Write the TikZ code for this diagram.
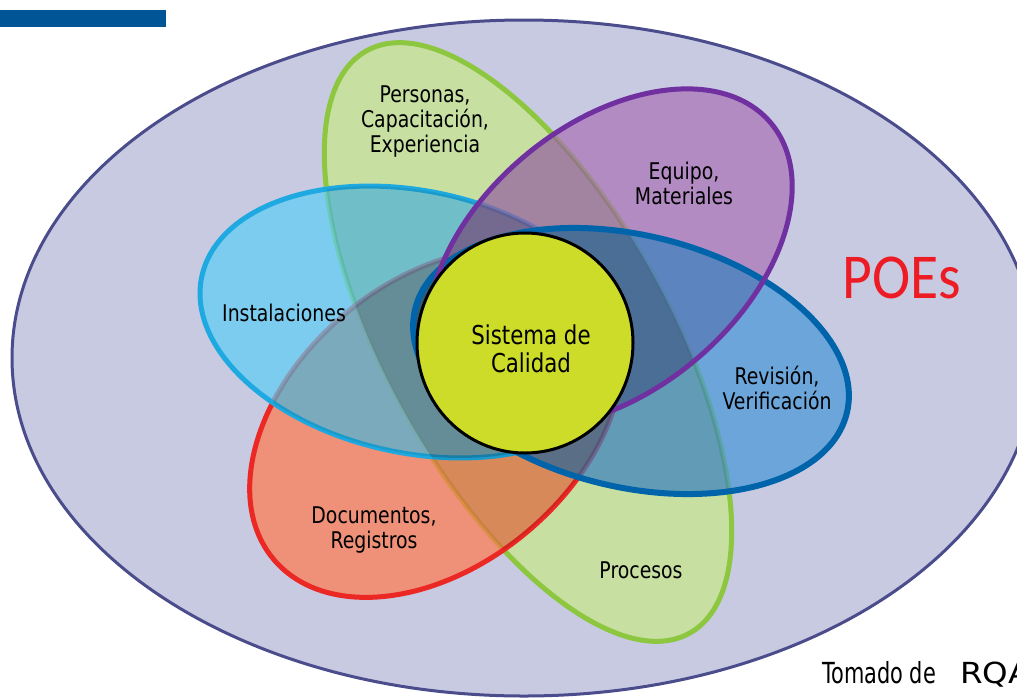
\documentclass[tikz,border=0pt]{standalone}
\usepackage{fontspec}
\newfontfamily\lblfont[FakeStretch=0.82]{DejaVu Sans}
\newfontfamily\srcfont[FakeStretch=0.72]{DejaVu Sans}
\newfontfamily\rqfont[FakeStretch=1.12]{DejaVu Sans}
\newfontfamily\poefont[FakeStretch=0.9]{Carlito}
\definecolor{barblue}{RGB}{0,85,150}
\definecolor{outerfill}{RGB}{200,202,226}
\definecolor{outerline}{RGB}{74,76,140}
\definecolor{greenfill}{RGB}{201,233,136}
\definecolor{greenline}{RGB}{141,198,63}
\definecolor{redfill}{RGB}{255,121,75}
\definecolor{redline}{RGB}{235,40,35}
\definecolor{cyanfill}{RGB}{93,206,246}
\definecolor{cyanline}{RGB}{30,170,225}
\definecolor{bluefill}{RGB}{70,150,215}
\definecolor{blueline}{RGB}{0,100,170}
\definecolor{purplefill}{RGB}{171,113,182}
\definecolor{purpleline}{RGB}{112,48,160}
\definecolor{corefill}{RGB}{205,220,40}
\definecolor{poered}{RGB}{237,28,36}
% petal geometry
\def\pG{(528,342) ellipse [x radius=333pt, y radius=142pt]}
\def\pR{(436,423) ellipse [x radius=212pt, y radius=142pt]}
\def\pC{(415,322) ellipse [x radius=218pt, y radius=131pt]}
\def\pB{(631,361) ellipse [x radius=222pt, y radius=126pt]}
\def\pP{(610,258) ellipse [x radius=210pt, y radius=133pt]}
\begin{document}
\begin{tikzpicture}[x=1pt,y=-1pt,
  rG/.style={rotate around={-61:(528,342)}},
  rR/.style={rotate around={40:(436,423)}},
  rC/.style={rotate around={-12:(415,322)}},
  rB/.style={rotate around={-13.5:(631,361)}},
  rP/.style={rotate around={40:(610,258)}},
  petal/.style={line width=5pt, fill opacity=0.7},
  shade/.style={fill=black, fill opacity=0.09},
  lbl/.style={font=\lblfont\fontsize{23}{25}\selectfont, align=center, text=black, inner sep=0pt},
  corelbl/.style={font=\lblfont\fontsize{26}{28}\selectfont, align=center, text=black, inner sep=0pt}]
\useasboundingbox (0,0) rectangle (1017,697);
% top-left bar
\fill[barblue] (0,10) rectangle (166,27);
% outer ellipse
\draw[line width=3pt, draw=outerline, fill=outerfill] (524,358) ellipse [x radius=512pt, y radius=338pt];
% petals (lower layers)
\draw[petal, rG, draw=greenline, fill=greenfill] \pG;
\draw[petal, rR, draw=redline, fill=redfill] \pR;
\draw[petal, rC, draw=cyanline, fill=cyanfill] \pC;
\fill[petal, rP, fill=purplefill] \pP;
\fill[petal, rB, fill=bluefill] \pB;
% darker overlaps
\begin{scope}\clip[rG] \pG; \fill[shade, rR] \pR; \end{scope}
\begin{scope}\clip[rG] \pG; \fill[shade, rC] \pC; \end{scope}
\begin{scope}\clip[rG] \pG; \fill[shade, rB] \pB; \end{scope}
\begin{scope}\clip[rG] \pG; \fill[shade, rP] \pP; \end{scope}
\begin{scope}\clip[rR] \pR; \fill[shade, rC] \pC; \end{scope}
\begin{scope}\clip[rR] \pR; \fill[shade, rB] \pB; \end{scope}
\begin{scope}\clip[rR] \pR; \fill[shade, rP] \pP; \end{scope}
\begin{scope}\clip[rC] \pC; \fill[shade, rB] \pB; \end{scope}
\begin{scope}\clip[rC] \pC; \fill[shade, rP] \pP; \end{scope}
\begin{scope}\clip[rB] \pB; \fill[shade, rP] \pP; \end{scope}
% upper outlines
\draw[line width=6pt, rB, draw=blueline] \pB;
\draw[line width=5pt, rP, draw=purpleline] \pP;
% core
\draw[line width=3pt, draw=black, fill=corefill] (525,343) ellipse [x radius=108pt, y radius=110pt];
% labels
\node[lbl] (personas) at (425,122) {Personas,\\Capacitación,\\Experiencia};
\node[lbl] (equipo) at (684,183) {Equipo,\\Materiales};
\node[lbl] (inst) at (284,313) {Instalaciones};
\node[corelbl] (core) at (531,349) {Sistema de\\Calidad};
\node[lbl] (revision) at (777,388) {Revisión,\\Verificación};
\node[lbl] (docs) at (374,530) {Documentos,\\Registros};
\node[lbl] (procesos) at (641,570) {Procesos};
\node[font=\poefont\fontsize{64}{64}\selectfont, text=poered, inner sep=0pt] (poes) at (902,278) {POEs};
\node[font=\srcfont\fontsize{29}{30}\selectfont, anchor=base west, inner sep=0pt] (src) at (822,683) {Tomado de};
\node[font=\rqfont\fontsize{29}{30}\selectfont, anchor=base west, inner sep=0pt] (srcb) at (960,683) {RQA};
\end{tikzpicture}
\end{document}
